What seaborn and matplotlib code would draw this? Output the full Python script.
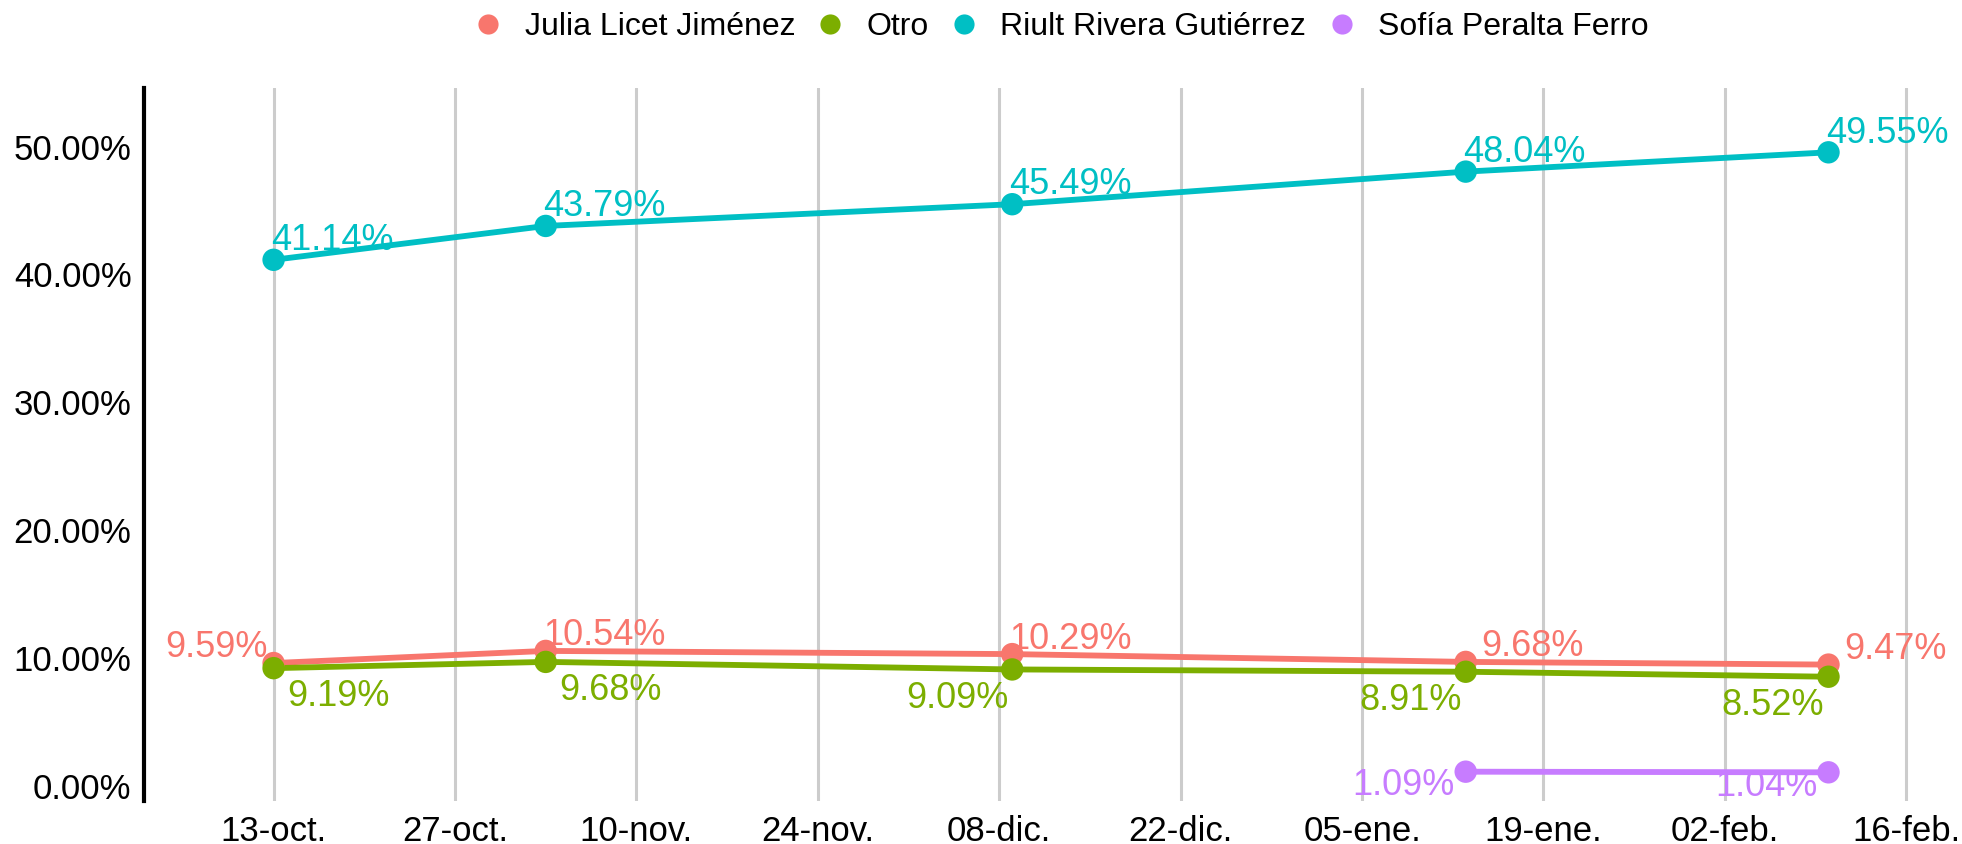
import pandas as pd
import seaborn as sns
import matplotlib.pyplot as plt

# datos de la encuesta
fechas = ["2023-10-13", "2023-11-03", "2023-12-09", "2024-01-13", "2024-02-10"]
candidatos = ["Julia Licet Jiménez", "Otro", "Riult Rivera Gutiérrez", "Sofía Peralta Ferro"]
julia = [9.59, 10.54, 10.29, 9.68, 9.47]
otro = [9.19, 9.68, 9.09, 8.91, 8.52]
riult = [41.14, 43.79, 45.49, 48.04, 49.55]
sofia = [None, None, None, 1.09, 1.04]
colores = ["#F8766D", "#7CAE00", "#00BFC4", "#C77CFF"]
meses = {10: "oct", 11: "nov", 12: "dic", 1: "ene", 2: "feb"}

filas = []
for nombre, serie in zip(candidatos, [julia, otro, riult, sofia]):
    for f, v in zip(fechas, serie):
        if v is not None:
            filas.append({"Fecha": pd.Timestamp(f), "Candidato": nombre, "Valor": v})
df = pd.DataFrame(filas)

sns.set_theme(style="white")
plt.rcParams["font.family"] = ["Liberation Sans", "DejaVu Sans"]
plt.rcParams["text.color"] = "black"
plt.rcParams["xtick.color"] = "black"
plt.rcParams["ytick.color"] = "black"

fig = plt.figure(figsize=(19.62, 8.44), dpi=100)
ax = fig.add_axes([0.0734, 0.051, 0.9246, 0.845])

paleta = dict(zip(candidatos, colores))
sns.lineplot(data=df, x="Fecha", y="Valor", hue="Candidato", palette=paleta,
             hue_order=candidatos, linewidth=4.2, legend=False, ax=ax)
sns.scatterplot(data=df, x="Fecha", y="Valor", hue="Candidato", palette=paleta,
                hue_order=candidatos, s=260, edgecolor="none", ax=ax, zorder=3)

# etiquetas de cada punto (desplazamiento en puntos, alineacion)
estilo_etiqueta = {
    "Julia Licet Jiménez": [(-4, 4, "right", "baseline")] + [(-2, 4, "left", "baseline")] * 2 + [(11, 4, "left", "baseline")] * 2,
    "Otro": [(10, -8, "left", "top")] * 2 + [(-3, -8, "right", "top")] * 3,
    "Riult Rivera Gutiérrez": [(-2, 7, "left", "baseline")] * 5,
    "Sofía Peralta Ferro": [(-8, -10, "right", "center")] * 5,
}
for nombre, serie in zip(candidatos, [julia, otro, riult, sofia]):
    for i, (f, v) in enumerate(zip(fechas, serie)):
        if v is None:
            continue
        dx, dy, ha, va = estilo_etiqueta[nombre][i]
        ax.annotate(f"{v:.2f}%", (pd.Timestamp(f), v), xytext=(dx, dy),
                    textcoords="offset points", ha=ha, va=va,
                    color=paleta[nombre], fontsize=26, zorder=4)

ticks = pd.date_range("2023-10-13", periods=10, freq="14D")
ax.set_xticks(ticks)
ax.set_xticklabels([f"{t.day:02d}-{meses[t.month]}." for t in ticks], fontsize=25)
ax.set_xlim(pd.Timestamp("2023-10-03"), pd.Timestamp("2024-02-20"))
ax.set_ylim(-1.2, 54.6)
ax.set_yticks([0, 10, 20, 30, 40, 50])
ax.set_yticklabels([f"{y:.2f}%" for y in [0, 10, 20, 30, 40, 50]], fontsize=25)
ax.tick_params(axis="x", length=0, pad=10)
ax.tick_params(axis="y", length=0, pad=9)
ax.grid(axis="x", color="#CCCCCC", linewidth=2.2)
ax.grid(axis="y", visible=False)
for lado in ["top", "right", "bottom"]:
    ax.spines[lado].set_visible(False)
ax.spines["left"].set_linewidth(3)
ax.spines["left"].set_color("black")
ax.set_xlabel("")
ax.set_ylabel("")

sns.move_legend(ax, "center", bbox_to_anchor=(0.506, 1.085), ncol=4, frameon=False,
                title=None, fontsize=23, handlelength=0.8, handletextpad=0.74,
                columnspacing=0.7, markerscale=0.9)

plt.savefig("out.png", dpi=100)
